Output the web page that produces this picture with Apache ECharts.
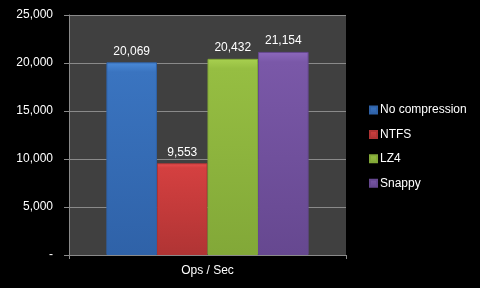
<!DOCTYPE html>
<html><head><meta charset="utf-8">
<script src="https://cdn.jsdelivr.net/npm/echarts@6/dist/echarts.min.js"></script>
<style>html,body{margin:0;padding:0;background:#000;}#c{width:480px;height:288px;}</style>
</head><body><div id="c"></div>
<script>
const categories = ['Ops / Sec'];
const seriesNames = ['No compression', 'NTFS', 'LZ4', 'Snappy'];
const seriesValues = [[20069], [9553], [20432], [21154]];
const yTicks = [0, 5000, 10000, 15000, 20000, 25000];
const palette = [
  ['#4a8ad8', '#3a74c0', '#2f62a8'],
  ['#e85050', '#d44040', '#b03434'],
  ['#a8d050', '#96be42', '#82a838'],
  ['#8c68bc', '#7a58a8', '#664890']
];
const fmt = v => v === 0 ? '-' : v.toLocaleString('en-US');
const font = 'Liberation Sans';
const chart = echarts.init(document.getElementById('c'), null, {renderer: 'canvas'});
chart.setOption({
  backgroundColor: '#000',
  animation: false,
  textStyle: {fontFamily: font},
  grid: {left: 69, right: 134, top: 15, bottom: 33, show: true, backgroundColor: '#404040', borderWidth: 0, containLabel: false},
  legend: {
    orient: 'vertical', left: 369, top: 104, padding: 0,
    itemWidth: 7, itemHeight: 7, itemGap: 12.4,
    icon: 'rect',
    textStyle: {color: '#fff', fontSize: 12, fontFamily: font, padding: [0,0,0,-2]},
    data: seriesNames
  },
  xAxis: {
    type: 'category', data: categories,
    axisLine: {lineStyle: {color: '#8a8a8a', width: 1}},
    axisTick: {show: true, length: 4, lineStyle: {color: '#8a8a8a'}},
    axisLabel: {color: '#fff', fontSize: 12, margin: 10, fontFamily: font}
  },
  yAxis: {
    type: 'value', min: yTicks[0], max: yTicks[yTicks.length-1], interval: 5000,
    axisLine: {show: true, lineStyle: {color: '#8a8a8a'}},
    axisTick: {show: true, length: 5, lineStyle: {color: '#8a8a8a'}},
    splitLine: {lineStyle: {color: '#8a8a8a', width: 1}},
    axisLabel: {color: '#fff', fontSize: 12, margin: 16, fontFamily: font, formatter: fmt}
  },
  series: seriesNames.map((n, i) => ({
    name: n, type: 'bar', data: seriesValues[i],
    barGap: '0%', barCategoryGap: '27%',
    itemStyle: {
      color: {type: 'linear', x: 0, y: 0, x2: 0, y2: 1, colorStops: [
        {offset: 0, color: palette[i][0]}, {offset: 0.05, color: palette[i][1]}, {offset: 1, color: palette[i][2]}]},
      borderColor: palette[i][2], borderWidth: 1
    },
    label: {show: true, position: 'top', color: '#fff', fontSize: 12, fontFamily: font, distance: 5,
      formatter: p => fmt(p.value)}
  }))
});
</script></body></html>
